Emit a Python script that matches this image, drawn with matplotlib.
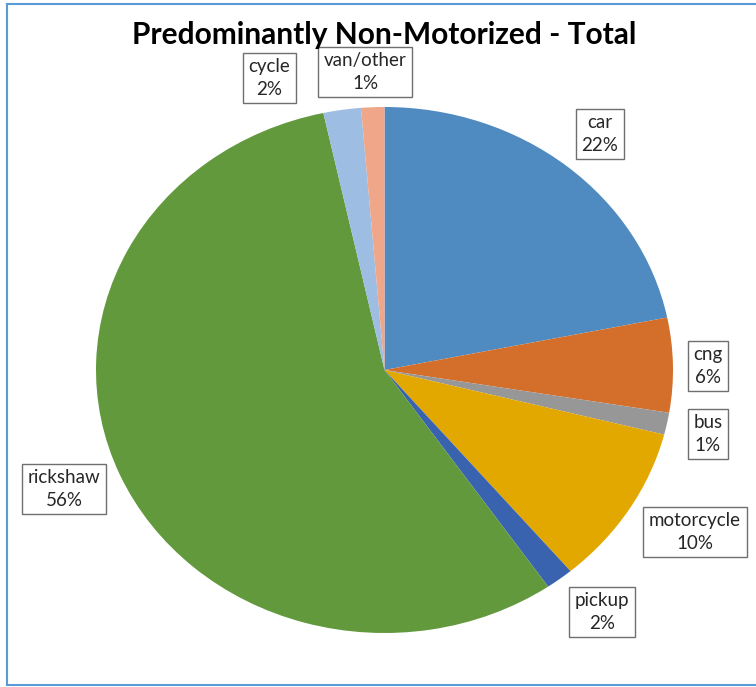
import matplotlib
matplotlib.use("Agg")
import matplotlib.pyplot as plt
from matplotlib.lines import Line2D

categories = ["car", "cng", "bus", "motorcycle", "pickup", "rickshaw", "cycle", "van/other"]
shares = [21.8, 5.8, 1.35, 9.9, 1.55, 56.2, 2.1, 1.3]
colors = ["#4F8BC0", "#D46F2B", "#979797", "#E2A800", "#3A63AF", "#62993D", "#9DBDE3", "#F0A689"]
title = "Predominantly Non-Motorized - Total"

W, H = 756, 687
fig = plt.figure(figsize=(W / 100, H / 100), dpi=100)

# pie axes (the reference pie is slightly stretched horizontally)
left, right, top, bottom = 96, 673, 107, 633
pax = fig.add_axes([left / W, (H - bottom) / H, (right - left) / W, (bottom - top) / H])
pax.pie(shares, colors=colors, startangle=90, counterclock=False,
        radius=1, wedgeprops=dict(linewidth=0))
pax.set_aspect("auto")
pax.set_xlim(-1, 1)
pax.set_ylim(-1, 1)
pax.axis("off")

# overlay axes in pixel coordinates for labels
ax = fig.add_axes([0, 0, 1, 1])
ax.set_xlim(0, W)
ax.set_ylim(0, H)
ax.axis("off")

label_pos = [(600, 134), (708, 366), (708, 434), (695, 532),
             (602, 612), (64, 489), (269, 78), (365, 72)]
for cat, v, (px, py) in zip(categories, shares, label_pos):
    ax.text(px, H - py, f"{cat}\n{round(v)}%", ha="center", va="center",
            fontsize=13.5, family="Lato", color="#262626", linespacing=1.4,
            bbox=dict(boxstyle="square,pad=0.3", fc="white", ec="#6f6f6f", lw=1.0))

fig.text(384 / W, 1 - 35 / H, title, ha="center", va="center",
         fontsize=21.5, fontweight="bold", family="Lato", color="black")

# frame
lc = "#5B9BD5"
fig.add_artist(Line2D([7 / W, 7 / W], [1 - 685 / H, 1 - 4 / H], color=lc, lw=1.5, transform=fig.transFigure))
fig.add_artist(Line2D([7 / W, 1], [1 - 4 / H, 1 - 4 / H], color=lc, lw=1.5, transform=fig.transFigure))
fig.add_artist(Line2D([7 / W, 1], [1 - 685 / H, 1 - 685 / H], color=lc, lw=1.5, transform=fig.transFigure))

fig.savefig("out.png", dpi=100)
